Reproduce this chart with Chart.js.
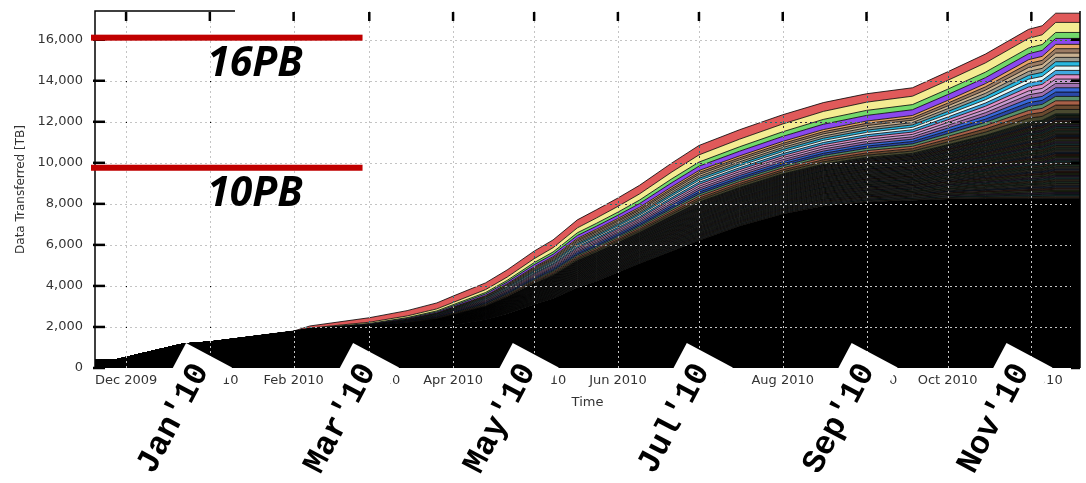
<!DOCTYPE html>
<html><head><meta charset="utf-8">
<script src="https://cdn.jsdelivr.net/npm/chart.js@4.4.1/dist/chart.umd.min.js"></script>
<style>html,body{margin:0;padding:0;background:#fff}#wrap{width:1086px;height:483px}</style>
</head><body><div id="wrap"><canvas id="c" width="1086" height="483"></canvas></div>
<script>
// x values: days since 1 Dec 2009
const days = [-11.5,-4,0,21,31,62,68,90,104,115,121,133,141,151,158,167,174,182,190,202,212,227,243,258,274,291,304,318,334,339,344,353];
// black (many thin dark sites) region, TB
const blackBase = [380,390,520,1170,1270,1780,1800,1850,1920,2010,2100,2360,2650,3110,3390,3920,4230,4670,5090,5700,6210,6920,7500,7900,8100,8180,8240,8260,8260,8270,8270,8270];
// thin dark stripe thickness (each of the lower sites), TB
const darkStripe = [0,0,0,0,0,0,1.5,3.5,6,9,12,16,20,25,28,33,35,36,38,43,47,47,49,51,54,57,66,77,93,95,103,103];
// mid coloured stripe thickness (each), TB
const midStripe = [0,0,0,0,0,0,3,7.5,13.5,19.5,24,33,40.5,51,57,67.5,70.5,73.5,76.5,88.5,96,96,99,105,111,115.5,135,157.5,190.5,195,211.5,211.5];
// top four sites, TB
const purpleSite = [0,0,0,0,0,0,10,30,40,50,60,80,90,110,120,140,150,160,180,200,210,230,245,260,275,280,285,290,290,290,290,290];
const greenSite  = [0,0,0,0,0,0,10,30,40,50,60,70,80,100,110,130,140,150,170,190,200,215,225,235,245,250,260,270,280,285,290,290];
const yellowSite = [0,0,0,0,0,0,20,60,80,100,110,140,160,190,210,240,260,280,300,330,350,370,380,390,400,410,430,450,470,475,490,490];
const redSite    = [0,0,0,0,0,20,100,220,260,290,310,330,350,370,380,390,400,410,420,440,460,460,450,430,410,410,420,430,440,440,450,450];

const darkColors = ['#2b2217','#132a2a','#221a2a','#222a16','#2c1914','#151d2c','#28261d','#19291d'];
// bottom -> top
const midColors = ['#4a4a30','#6a4a30','#a86048','#58906a','#2a48a8','#3868d8','#a070b0','#c89ad0','#e090c8','#40a8e0','#e8f8f8','#28b8e0','#9a9a90','#c8b090','#9c7c64','#e6a468'];
const DARK_COUNT = 40;

const monthDays = [0,31,62,90,121,151,182,212,243,274,304,335];
const monthLabels = ['Dec 2009','Jan 2010','Feb 2010','Mar 2010','Apr 2010','May 2010','Jun 2010','Jul 2010','Aug 2010','Sep 2010','Oct 2010','Nov 2010'];
const yTickValues = [0,2000,4000,6000,8000,10000,12000,14000,16000];

const pbLevels = [16100, 9760];
const pbLabels = ['16PB', '10PB'];
const calloutDays = [22.2, 84, 143.1, 207.5, 268.5, 325.8];
const calloutLabels = ["Jan'10", "Mar'10", "May'10", "Jul'10", "Sep'10", "Nov'10"];

const datasets = [];
function addLayer(label, values, color, first) {
  datasets.push({
    label: label,
    data: days.map((d, i) => ({x: d, y: values[i]})),
    backgroundColor: color,
    borderColor: '#000',
    borderWidth: 0.8,
    fill: first ? 'origin' : '-1',
    pointRadius: 0,
    tension: 0
  });
}
addLayer('base', blackBase, '#000', true);
for (let k = 0; k < DARK_COUNT; k++) addLayer('dark' + k, darkStripe, darkColors[k % darkColors.length], false);
for (let k = 0; k < midColors.length; k++) addLayer('mid' + k, midStripe, midColors[k], false);
addLayer('purple', purpleSite, '#8a48ee', false);
addLayer('green', greenSite, '#72d86a', false);
addLayer('yellow', yellowSite, '#f4ec92', false);
addLayer('red', redSite, '#e05a5a', false);

const gridPlugin = {
  id: 'dottedGrid',
  afterDatasetsDraw(chart) {
    const {ctx, chartArea: a, scales: {x, y}} = chart;
    ctx.save();
    ctx.beginPath(); ctx.rect(a.left, a.top, a.right - a.left, a.bottom - a.top); ctx.clip();
    ctx.globalCompositeOperation = 'difference';
    ctx.strokeStyle = '#c4c4c4';
    ctx.lineWidth = 1;
    ctx.setLineDash([2, 3]);
    yTickValues.forEach(v => {
      if (v === 0) return;
      const py = Math.round(y.getPixelForValue(v)) + 0.5;
      ctx.beginPath(); ctx.moveTo(a.left, py); ctx.lineTo(a.right, py); ctx.stroke();
    });
    monthDays.forEach(v => {
      const px = Math.round(x.getPixelForValue(v)) + 0.5;
      ctx.beginPath(); ctx.moveTo(px, a.top); ctx.lineTo(px, a.bottom); ctx.stroke();
    });
    ctx.restore();
  }
};

const framePlugin = {
  id: 'frame',
  afterDraw(chart) {
    const {ctx, chartArea: a, scales: {x, y}} = chart;
    ctx.save();
    ctx.strokeStyle = '#000';
    ctx.lineWidth = 1.5;
    ctx.beginPath();
    ctx.moveTo(a.left, a.bottom); ctx.lineTo(a.left, a.top); ctx.lineTo(a.left + 140, a.top);
    ctx.moveTo(a.right, a.top); ctx.lineTo(a.right, a.bottom);
    ctx.stroke();
    ctx.lineWidth = 2.5;
    yTickValues.forEach(v => {
      const py = y.getPixelForValue(v);
      ctx.beginPath(); ctx.moveTo(a.left - 2, py); ctx.lineTo(a.left + 10, py); ctx.stroke();
      ctx.beginPath(); ctx.moveTo(a.right - 9, py); ctx.lineTo(a.right, py); ctx.stroke();
    });
    monthDays.forEach(v => {
      const px = x.getPixelForValue(v);
      ctx.beginPath(); ctx.moveTo(px, a.top + 1); ctx.lineTo(px, a.top + 10); ctx.stroke();
    });
    ctx.restore();
  }
};

const calloutPlugin = {
  id: 'callouts',
  afterDraw(chart) {
    const {ctx, chartArea: a, scales: {x, y}} = chart;
    ctx.save();
    const th = -62 * Math.PI / 180;
    calloutDays.forEach((d, i) => {
      const cx = x.getPixelForValue(d);
      const cy = a.bottom - 25;
      ctx.save();
      ctx.translate(cx, cy);
      ctx.rotate(th);
      ctx.fillStyle = '#fff';
      ctx.fillRect(-190, 0, 190, 52);
      ctx.fillStyle = '#000';
      ctx.font = 'bold 33px "Liberation Mono", "DejaVu Sans Mono", monospace';
      ctx.textAlign = 'right';
      ctx.textBaseline = 'alphabetic';
      ctx.fillText(calloutLabels[i], -13, 33);
      ctx.restore();
    });
    const x0 = a.left - 4, x1 = x.getPixelForValue(87.5);
    pbLevels.forEach((v, i) => {
      const py = y.getPixelForValue(v);
      ctx.fillStyle = '#c00000';
      ctx.fillRect(x0, py - 3, x1 - x0, 6);
      ctx.fillStyle = '#000';
      ctx.font = 'italic bold 41px "Open Sans", "Liberation Sans", sans-serif';
      ctx.textAlign = 'left';
      ctx.textBaseline = 'alphabetic';
      ctx.fillText(pbLabels[i], x.getPixelForValue(30), py + 38);
    });
    ctx.restore();
  }
};

Chart.defaults.font.family = '"DejaVu Sans", sans-serif';
new Chart(document.getElementById('c'), {
  type: 'line',
  data: { datasets: datasets },
  options: {
    responsive: false,
    animation: false,
    events: [],
    layout: { padding: { left: 14, right: 6, top: 11, bottom: 73 } },
    plugins: { legend: { display: false }, tooltip: { enabled: false } },
    scales: {
      x: {
        type: 'linear', min: -11.5, max: 353,
        grid: { display: false, drawTicks: false },
        border: { display: false },
        afterBuildTicks: s => { s.ticks = monthDays.map(v => ({ value: v })); },
        afterFit: s => { s.height = 42; s.paddingLeft = 0; s.paddingRight = 0; },
        ticks: {
          padding: 5, autoSkip: false, maxRotation: 0, color: '#333',
          font: { family: '"DejaVu Sans", sans-serif', size: 13 },
          callback: v => monthLabels[monthDays.indexOf(v)]
        },
        title: { display: true, text: 'Time', color: '#333', padding: 0,
          font: { family: '"DejaVu Sans", sans-serif', size: 13 } }
      },
      y: {
        stacked: true, min: 0, max: 17400,
        grid: { display: false, drawTicks: false },
        border: { display: false },
        afterBuildTicks: s => { s.ticks = yTickValues.map(v => ({ value: v })); },
        afterFit: s => { s.width = 81; s.paddingTop = 0; s.paddingBottom = 0; },
        ticks: {
          padding: 12, color: '#333',
          font: { family: '"DejaVu Sans", sans-serif', size: 13 },
          callback: v => v.toLocaleString('en-US')
        },
        title: { display: true, text: 'Data Transferred [TB]', color: '#333', padding: 0,
          font: { family: '"DejaVu Sans", sans-serif', size: 12 } }
      }
    }
  },
  plugins: [gridPlugin, framePlugin, calloutPlugin]
});
</script></body></html>
